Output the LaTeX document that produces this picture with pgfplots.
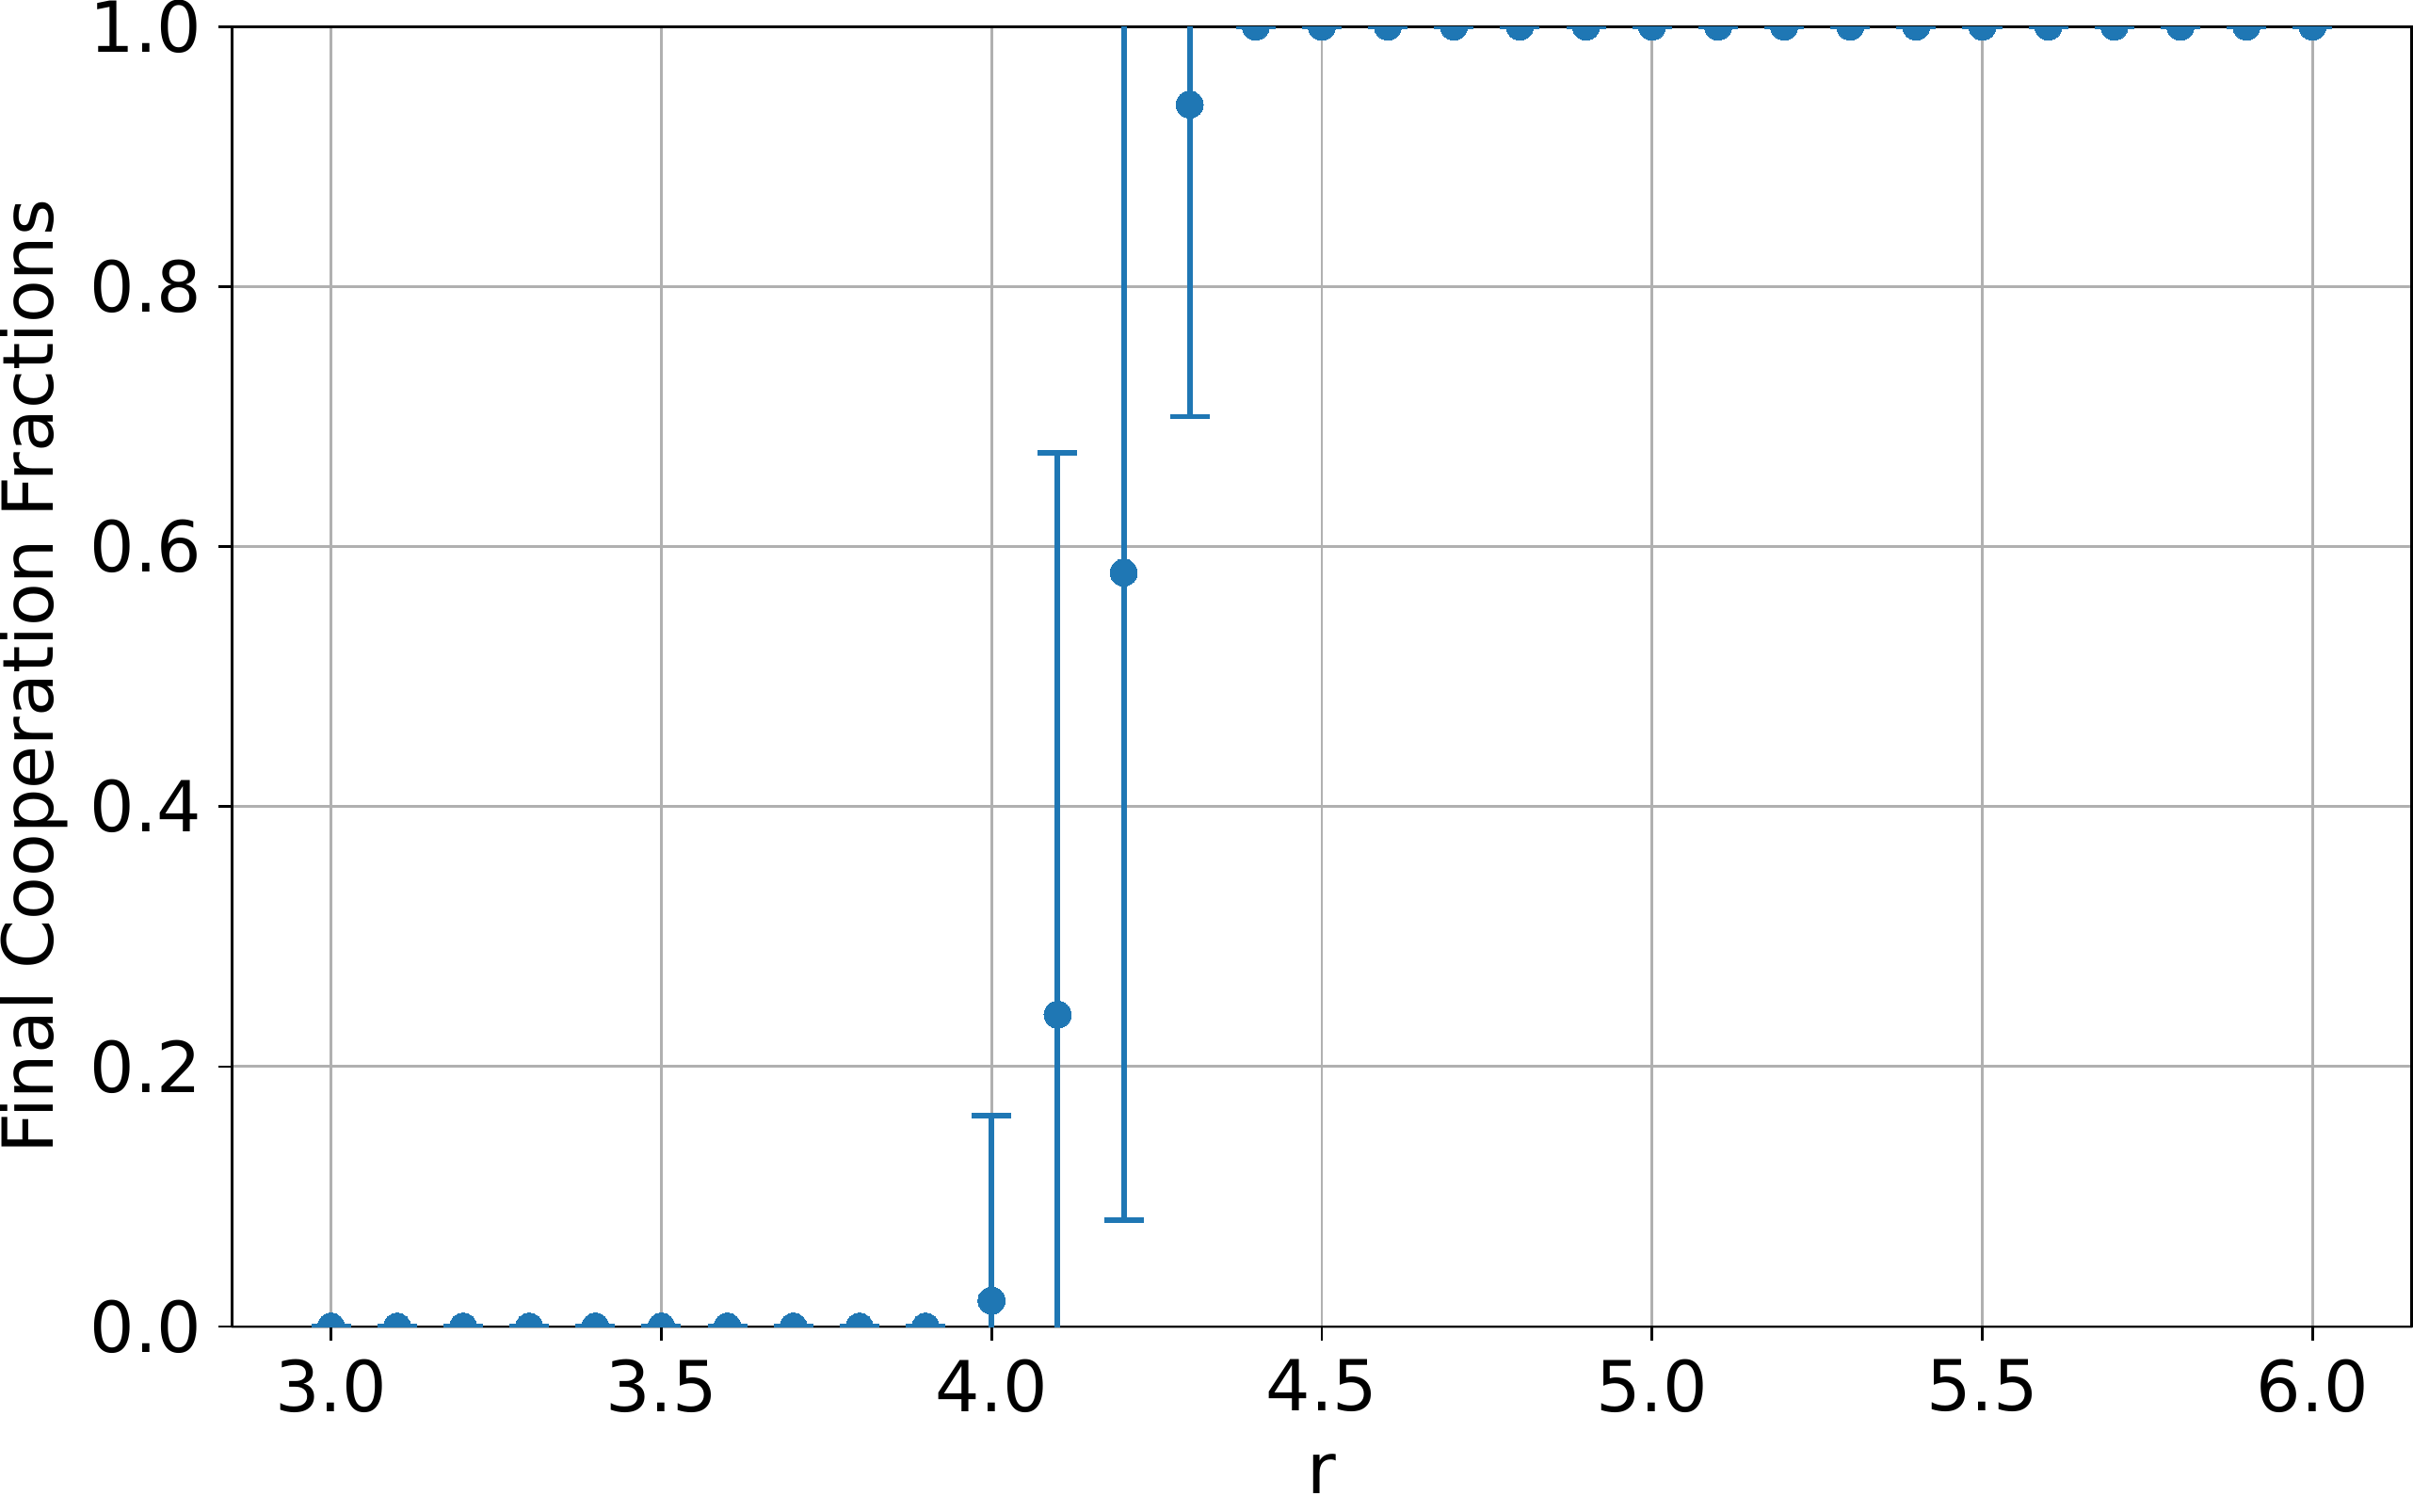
\documentclass[border=0pt]{standalone}
\usepackage{fontspec}
\setmainfont{DejaVu Sans}
\usepackage{pgfplots}
\usepackage{pgfplotstable}
\pgfplotsset{compat=1.18}
\definecolor{mplblue}{HTML}{1F77B4}
\definecolor{gridgray}{HTML}{B0B0B0}

\pgfplotstableread{
x    y     e
3.0  0.00  0
3.1  0.00  0
3.2  0.00  0
3.3  0.00  0
3.4  0.00  0
3.5  0.00  0
3.6  0.00  0
3.7  0.00  0
3.8  0.00  0
3.9  0.00  0
4.0  0.02  0.142
4.1  0.24  0.432
4.2  0.58  0.498
4.3  0.94  0.240
4.4  1.00  0
4.5  1.00  0
4.6  1.00  0
4.7  1.00  0
4.8  1.00  0
4.9  1.00  0
5.0  1.00  0
5.1  1.00  0
5.2  1.00  0
5.3  1.00  0
5.4  1.00  0
5.5  1.00  0
5.6  1.00  0
5.7  1.00  0
5.8  1.00  0
5.9  1.00  0
6.0  1.00  0
}\coop

\begin{document}
\begin{tikzpicture}
\begin{axis}[
  scale only axis,
  width=418.3pt,
  height=249.5pt,
  xmin=2.85, xmax=6.15,
  ymin=0, ymax=1,
  xtick={3,3.5,4,4.5,5,5.5,6},
  ytick={0,0.2,0.4,0.6,0.8,1},
  grid=major,
  major grid style={gridgray, line width=0.54pt},
  axis line style={line width=0.5pt},
  tick align=outside,
  tick pos=left,
  major tick length=2.7pt,
  tick style={black, line width=0.5pt},
  ticklabel style={font=\fontsize{13.5}{16}\selectfont},
  yticklabel style={inner xsep=2.9pt, inner ysep=0pt},
  label style={font=\fontsize{13.5}{16}\selectfont},
  xlabel={r},
  xlabel style={inner ysep=3.5pt},
  xlabel shift=1pt,
  ylabel={Final Cooperation Fractions},
  ylabel style={inner sep=0pt},
  ylabel shift=1.1pt,
  clip marker paths=true,
  /pgf/number format/.cd, fixed, fixed zerofill, precision=1, assume math mode=true
]
\addplot+[mplblue, only marks, mark=*, mark size=2.6pt,
  mark options={solid, fill=mplblue, draw=mplblue, line width=0pt},
  error bars/.cd, y dir=both, y explicit, error mark=-,
  error bar style={line width=1.08pt, mplblue},
  error mark options={mplblue, line width=1.08pt, mark size=3.8pt, rotate=90}]
  table[x=x, y=y, y error=e] {\coop};
\end{axis}
\end{tikzpicture}
\end{document}
